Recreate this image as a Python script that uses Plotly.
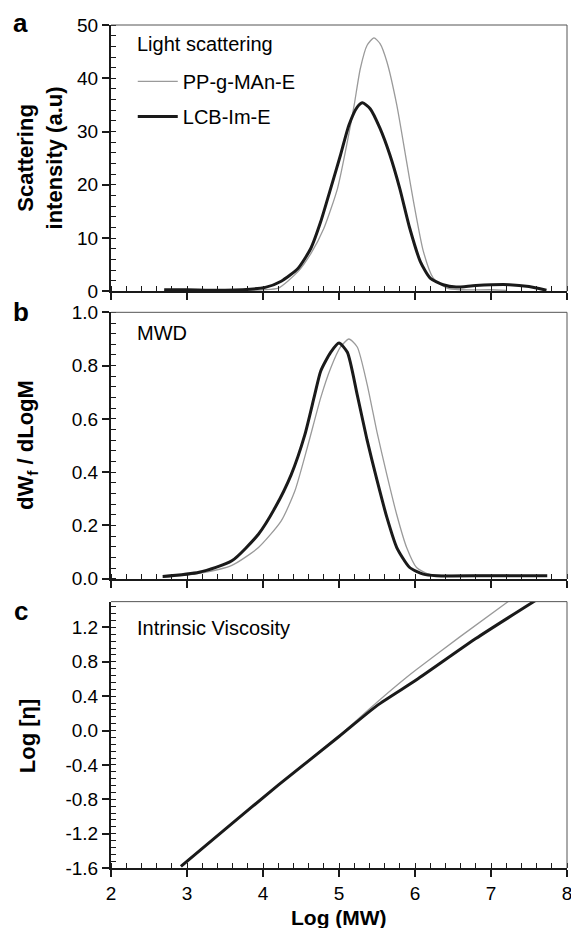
import plotly.graph_objects as go

# ---------------- data ----------------
# Panel a: light scattering
ls_pp_x = [2.70, 3.00, 3.50, 4.00, 4.20, 4.46, 4.63, 4.80, 4.98, 5.11, 5.20, 5.28, 5.37, 5.46,
           5.54, 5.63, 5.76, 5.89, 5.98, 6.11, 6.24, 6.42, 6.59, 7.00, 7.20]
ls_pp_y = [0.2, 0.2, 0.1, 0.3, 0.6, 3.7, 7.1, 11.8, 19.3, 28.1, 35.0, 41.8, 46.2, 47.6,
           46.5, 43.1, 35.0, 24.3, 16.9, 7.5, 2.5, 0.6, 0.3, 0.3, 0.2]
ls_lcb_x = [2.70, 3.00, 3.50, 4.03, 4.24, 4.46, 4.63, 4.76, 4.89, 5.02, 5.13, 5.24, 5.31, 5.41,
            5.54, 5.67, 5.80, 5.93, 6.07, 6.20, 6.37, 6.54, 6.80, 7.24, 7.50, 7.73]
ls_lcb_y = [0.3, 0.3, 0.2, 0.75, 1.9, 4.3, 8.1, 13.1, 19.3, 25.6, 31.2, 34.6, 35.4, 34.3,
            30.6, 25.6, 19.3, 11.9, 5.6, 2.5, 1.25, 0.8, 1.1, 1.25, 0.9, 0.2]

# Panel b: MWD
mwd_pp_x = [2.68, 3.16, 3.59, 3.94, 4.24, 4.42, 4.59, 4.76, 4.89, 5.02, 5.13, 5.24, 5.37,
            5.50, 5.63, 5.76, 5.89, 6.02, 6.20, 6.60, 7.24]
mwd_pp_y = [0.005, 0.020, 0.050, 0.117, 0.217, 0.33, 0.50, 0.68, 0.79, 0.87, 0.90, 0.87, 0.73,
            0.55, 0.39, 0.24, 0.117, 0.042, 0.015, 0.013, 0.013]
mwd_lcb_x = [2.68, 3.16, 3.59, 3.94, 4.16, 4.37, 4.55, 4.68, 4.76, 4.89, 5.00, 5.11, 5.24,
             5.37, 5.50, 5.63, 5.76, 5.93, 6.11, 6.28, 7.00, 7.74]
mwd_lcb_y = [0.008, 0.024, 0.067, 0.167, 0.267, 0.39, 0.54, 0.69, 0.78, 0.85, 0.885, 0.85, 0.69,
             0.52, 0.37, 0.23, 0.117, 0.042, 0.017, 0.011, 0.011, 0.011]

# Panel c: intrinsic viscosity
iv_pp_x = [2.92, 3.50, 4.20, 4.98, 5.50, 5.89, 6.02, 6.59, 7.24]
iv_pp_y = [-1.58, -1.15, -0.636, -0.076, 0.33, 0.62, 0.71, 1.09, 1.51]
iv_lcb_x = [2.92, 3.50, 4.20, 5.00, 5.50, 6.02, 6.80, 7.58]
iv_lcb_y = [-1.58, -1.15, -0.636, -0.07, 0.29, 0.59, 1.07, 1.51]

series_names = ["PP-g-MAn-E", "LCB-Im-E"]

# tick labels
x_ticks = [2, 3, 4, 5, 6, 7, 8]
x_ticktext = ["2", "3", "4", "5", "6", "7", "8"]
ya_ticks = [0, 10, 20, 30, 40, 50]
ya_ticktext = ["0", "10", "20", "30", "40", "50"]
yb_ticks = [0.0, 0.2, 0.4, 0.6, 0.8, 1.0]
yb_ticktext = ["0.0", "0.2", "0.4", "0.6", "0.8", "1.0"]
yc_ticks = [-1.6, -1.2, -0.8, -0.4, 0.0, 0.4, 0.8, 1.2]
yc_ticktext = ["-1.6", "-1.2", "-0.8", "-0.4", "0.0", "0.4", "0.8", "1.2"]

# ---------------- layout geometry ----------------
OFF = 8                      # page body margin of the html page
W, H = 579 - OFF, 928 - OFF
ML, MR, MT, MB = 111 - OFF, 7, 23 - OFF, 60
PW, PH = W - ML - MR, H - MT - MB


def px(x):
    return (x - OFF - ML) / PW


def py(y):
    return (H - MB - (y - OFF)) / PH


FONT = "Liberation Sans, Arial, Helvetica, sans-serif"
GRAY = "#9a9a9a"
BLACK = "#1a1a1a"

fig = go.Figure()

panels = [
    (ls_pp_x, ls_pp_y, ls_lcb_x, ls_lcb_y, "x", "y"),
    (mwd_pp_x, mwd_pp_y, mwd_lcb_x, mwd_lcb_y, "x2", "y2"),
    (iv_pp_x, iv_pp_y, iv_lcb_x, iv_lcb_y, "x3", "y3"),
]
for i, (gx, gy, bx, by, xa, ya) in enumerate(panels):
    fig.add_trace(go.Scatter(x=gx, y=gy, mode="lines", name=series_names[0],
                             line=dict(color=GRAY, width=1.3, shape="spline", smoothing=0.6),
                             xaxis=xa, yaxis=ya, showlegend=(i == 0), legendgroup="g1"))
    fig.add_trace(go.Scatter(x=bx, y=by, mode="lines", name=series_names[1],
                             line=dict(color=BLACK, width=3, shape="spline", smoothing=0.6),
                             xaxis=xa, yaxis=ya, showlegend=(i == 0), legendgroup="g2"))

tickfont = dict(family=FONT, size=19, color="black")
xcommon = dict(range=[2, 8], tickmode="array", tickvals=x_ticks, ticktext=x_ticktext,
               ticks="outside", ticklen=7, tickwidth=1.5,
               tickcolor=BLACK, showline=True, linewidth=2, linecolor=BLACK,
               showgrid=False, zeroline=False, tickfont=tickfont,
               minor=dict(dtick=0.2, tick0=0, ticks="inside", ticklen=5, tickwidth=1,
                          tickcolor=BLACK, showgrid=False))
ycommon = dict(ticks="outside", ticklen=7, tickwidth=1.5, tickcolor=BLACK, showline=True,
               linewidth=2, linecolor=BLACK, showgrid=False, zeroline=False, tickfont=tickfont,
               tickmode="array")

dom_a = [py(290), py(23)]
dom_b = [py(578), py(311)]
dom_c = [0, py(601)]

fig.update_layout(
    width=W, height=H,
    margin=dict(l=ML, r=MR, t=MT, b=MB),
    paper_bgcolor="white", plot_bgcolor="white",
    font=dict(family=FONT, size=19, color="black"),
    xaxis=dict(**xcommon, anchor="y", showticklabels=False),
    yaxis=dict(**ycommon, domain=dom_a, anchor="x", range=[0, 50.01],
               tickvals=ya_ticks, ticktext=ya_ticktext,
               minor=dict(dtick=2, tick0=0, ticks="inside", ticklen=5, tickwidth=1, tickcolor=BLACK)),
    xaxis2=dict(**xcommon, anchor="y2", showticklabels=False),
    yaxis2=dict(**ycommon, domain=dom_b, anchor="x2", range=[0, 1.0002],
                tickvals=yb_ticks, ticktext=yb_ticktext,
                minor=dict(dtick=0.04, tick0=0, ticks="inside", ticklen=5, tickwidth=1, tickcolor=BLACK)),
    xaxis3=dict(**xcommon, anchor="y3"),
    yaxis3=dict(**ycommon, domain=dom_c, anchor="x3", range=[-1.6, 1.5],
                tickvals=yc_ticks, ticktext=yc_ticktext,
                minor=dict(dtick=0.08, tick0=0, ticks="inside", ticklen=5, tickwidth=1, tickcolor=BLACK)),
    legend=dict(x=px(133), y=py(60), xanchor="left", yanchor="top", bgcolor="rgba(0,0,0,0)",
                font=dict(family=FONT, size=20, color="black"), tracegroupgap=6,
                itemwidth=40),
    showlegend=True,
)

# top and right frame lines (thin gray)
for xa, ya in [("x", "y"), ("x2", "y2"), ("x3", "y3")]:
    fig.add_shape(type="line", xref=f"{xa} domain", yref=f"{ya} domain", x0=0, x1=1, y0=1, y1=1,
                  line=dict(color="#555555", width=1))
    fig.add_shape(type="line", xref=f"{xa} domain", yref=f"{ya} domain", x0=1, x1=1, y0=0, y1=1,
                  line=dict(color="#555555", width=1))

# panel letters
for txt, x0, y0 in [("<b>a</b>", 20, 21), ("<b>b</b>", 20, 311), ("<b>c</b>", 20, 610)]:
    fig.add_annotation(text=txt, x=px(x0), y=py(y0), xref="paper", yref="paper",
                       showarrow=False, xanchor="center", yanchor="middle",
                       font=dict(family=FONT, size=26, color="black"))

# in-panel labels
for txt, x0, y0 in [("Light scattering", 135, 42), ("MWD", 135, 332),
                    ("Intrinsic Viscosity", 135, 627)]:
    fig.add_annotation(text=txt, x=px(x0), y=py(y0), xref="paper", yref="paper",
                       showarrow=False, xanchor="left", yanchor="middle",
                       font=dict(family=FONT, size=20, color="black"))

# axis titles
fig.add_annotation(text="<b>Scattering<br>intensity (a.u)</b>", x=px(39), y=py(156),
                   xref="paper", yref="paper", showarrow=False, textangle=-90,
                   xanchor="center", yanchor="middle",
                   font=dict(family=FONT, size=22, color="black"))
fig.add_annotation(text="<b>dW<sub>f</sub> / dLogM</b>", x=px(26), y=py(444),
                   xref="paper", yref="paper", showarrow=False, textangle=-90,
                   xanchor="center", yanchor="middle",
                   font=dict(family=FONT, size=22, color="black"))
fig.add_annotation(text="<b>Log [η]</b>", x=px(26), y=py(735),
                   xref="paper", yref="paper", showarrow=False, textangle=-90,
                   xanchor="center", yanchor="middle",
                   font=dict(family=FONT, size=22, color="black"))
fig.add_annotation(text="<b>Log (MW)</b>", x=px(342), y=py(918),
                   xref="paper", yref="paper", showarrow=False,
                   xanchor="center", yanchor="middle",
                   font=dict(family=FONT, size=21, color="black"))

fig.write_html("out.html")
